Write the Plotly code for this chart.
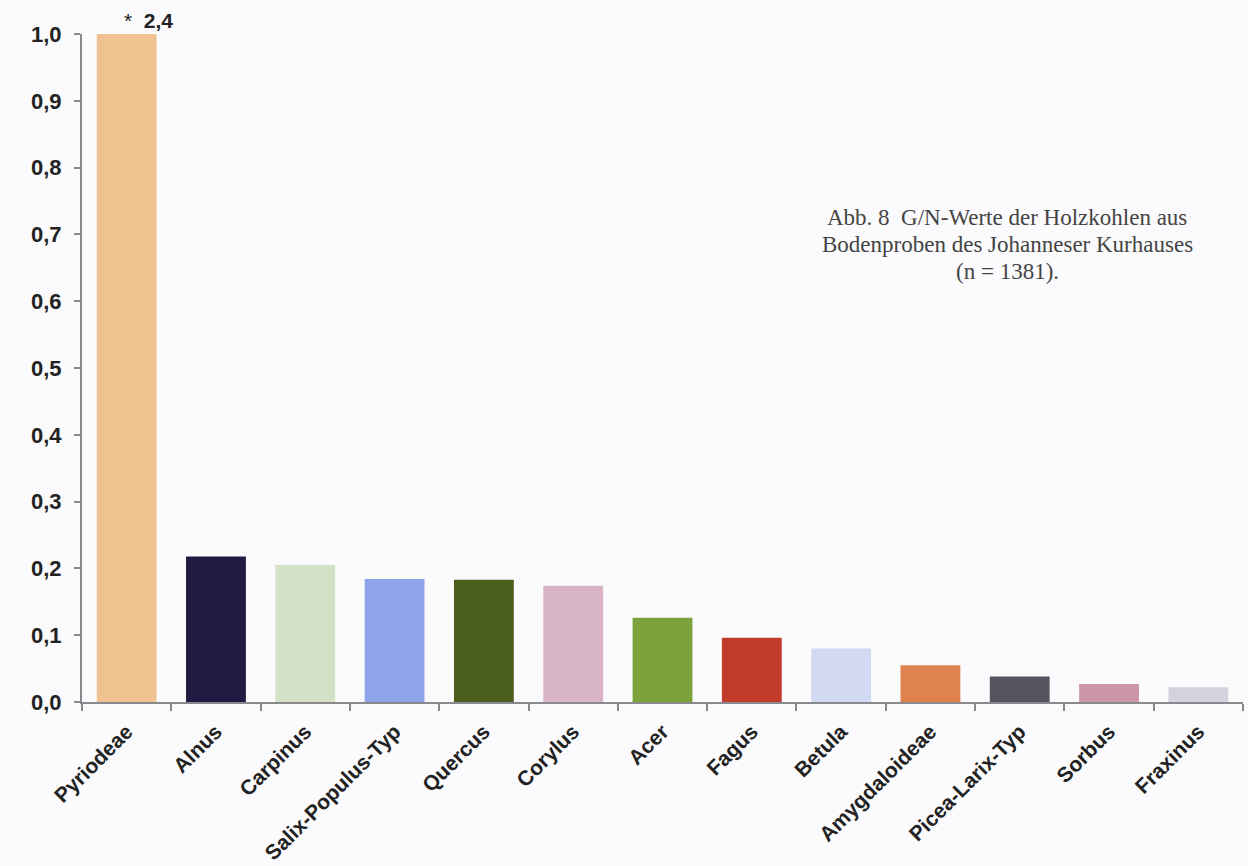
import plotly.graph_objects as go

# G/N values of charcoal taxa (Pyriodeae exceeds the axis: 2.4)
taxa = ["Pyriodeae", "Alnus", "Carpinus", "Salix-Populus-Typ", "Quercus", "Corylus",
        "Acer", "Fagus", "Betula", "Amygdaloideae", "Picea-Larix-Typ", "Sorbus", "Fraxinus"]
gn_values = [2.4, 0.218, 0.205, 0.184, 0.183, 0.174,
             0.126, 0.096, 0.080, 0.055, 0.038, 0.027, 0.022]
bar_colors = ["#EFC290", "#1F1B42", "#D3E2C6", "#8FA3EA", "#4B5E1C", "#D9B4C4",
              "#7DA23C", "#C23B2B", "#D2DAF3", "#E0824F", "#57535F", "#CC96A9", "#D3D3DF"]
y_ticks = [0.0, 0.1, 0.2, 0.3, 0.4, 0.5, 0.6, 0.7, 0.8, 0.9, 1.0]

caption_lines = ["Abb. 8\u00a0\u00a0G/N-Werte der Holzkohlen aus",
                 "Bodenproben des Johanneser Kurhauses",
                 "(n = 1381)."]

PLOT_TOP, PLOT_BOTTOM = 34, 702  # pixel rows of the y-axis ends

fig = go.Figure(go.Bar(
    x=taxa,
    y=gn_values,
    marker=dict(color=bar_colors, line=dict(width=0)),
    width=0.67,
    hoverinfo="x+y",
))

sans = "Liberation Sans, Arial, sans-serif"
y_tick_font = dict(family=sans, size=22, color="#222222", weight="bold")
x_tick_font = dict(family=sans, size=21, color="#222222", weight="bold")

annotations = [
    dict(
        x=taxa[0], y=1.0, xref="x", yref="y",
        text="<span style='font-weight:normal'>*</span>\u00a0\u00a0<b>2,4</b>",
        showarrow=False, xanchor="center", yanchor="bottom",
        xshift=22, yshift=0,
        font=dict(family=sans, size=21, color="#222222"),
    )
]
for i, line in enumerate(caption_lines):
    y_px = 218 + i * 26.5
    annotations.append(dict(
        x=0.797, y=(PLOT_BOTTOM - y_px) / (PLOT_BOTTOM - PLOT_TOP),
        xref="paper", yref="paper",
        text=line, showarrow=False, xanchor="center", yanchor="middle",
        font=dict(family="Liberation Serif, Times New Roman, serif", size=23, color="#444444"),
    ))

fig.update_layout(
    width=1248,
    height=866,
    margin=dict(l=82, r=5, t=PLOT_TOP, b=866 - PLOT_BOTTOM, autoexpand=False),
    paper_bgcolor="#FBFBFD",
    plot_bgcolor="#FBFBFD",
    separators=",.",
    showlegend=False,
    xaxis=dict(
        type="category",
        automargin=False,
        showline=True,
        linecolor="#8A8A8E",
        linewidth=2,
        ticks="outside",
        tickson="boundaries",
        ticklen=7,
        tickcolor="#8A8A8E",
        tickwidth=1.5,
        tickangle=-45,
        ticklabelstandoff=7,
        tickfont=x_tick_font,
        showgrid=False,
        zeroline=False,
    ),
    yaxis=dict(
        range=[0, 1.0],
        automargin=False,
        tickvals=y_ticks,
        tickformat=".1f",
        showline=True,
        linecolor="#8A8A8E",
        linewidth=2,
        ticks="outside",
        ticklen=6,
        tickcolor="#8A8A8E",
        tickwidth=1.5,
        ticklabelstandoff=8,
        tickfont=y_tick_font,
        showgrid=False,
        zeroline=False,
    ),
    annotations=annotations,
)

fig.write_html("out.html")
